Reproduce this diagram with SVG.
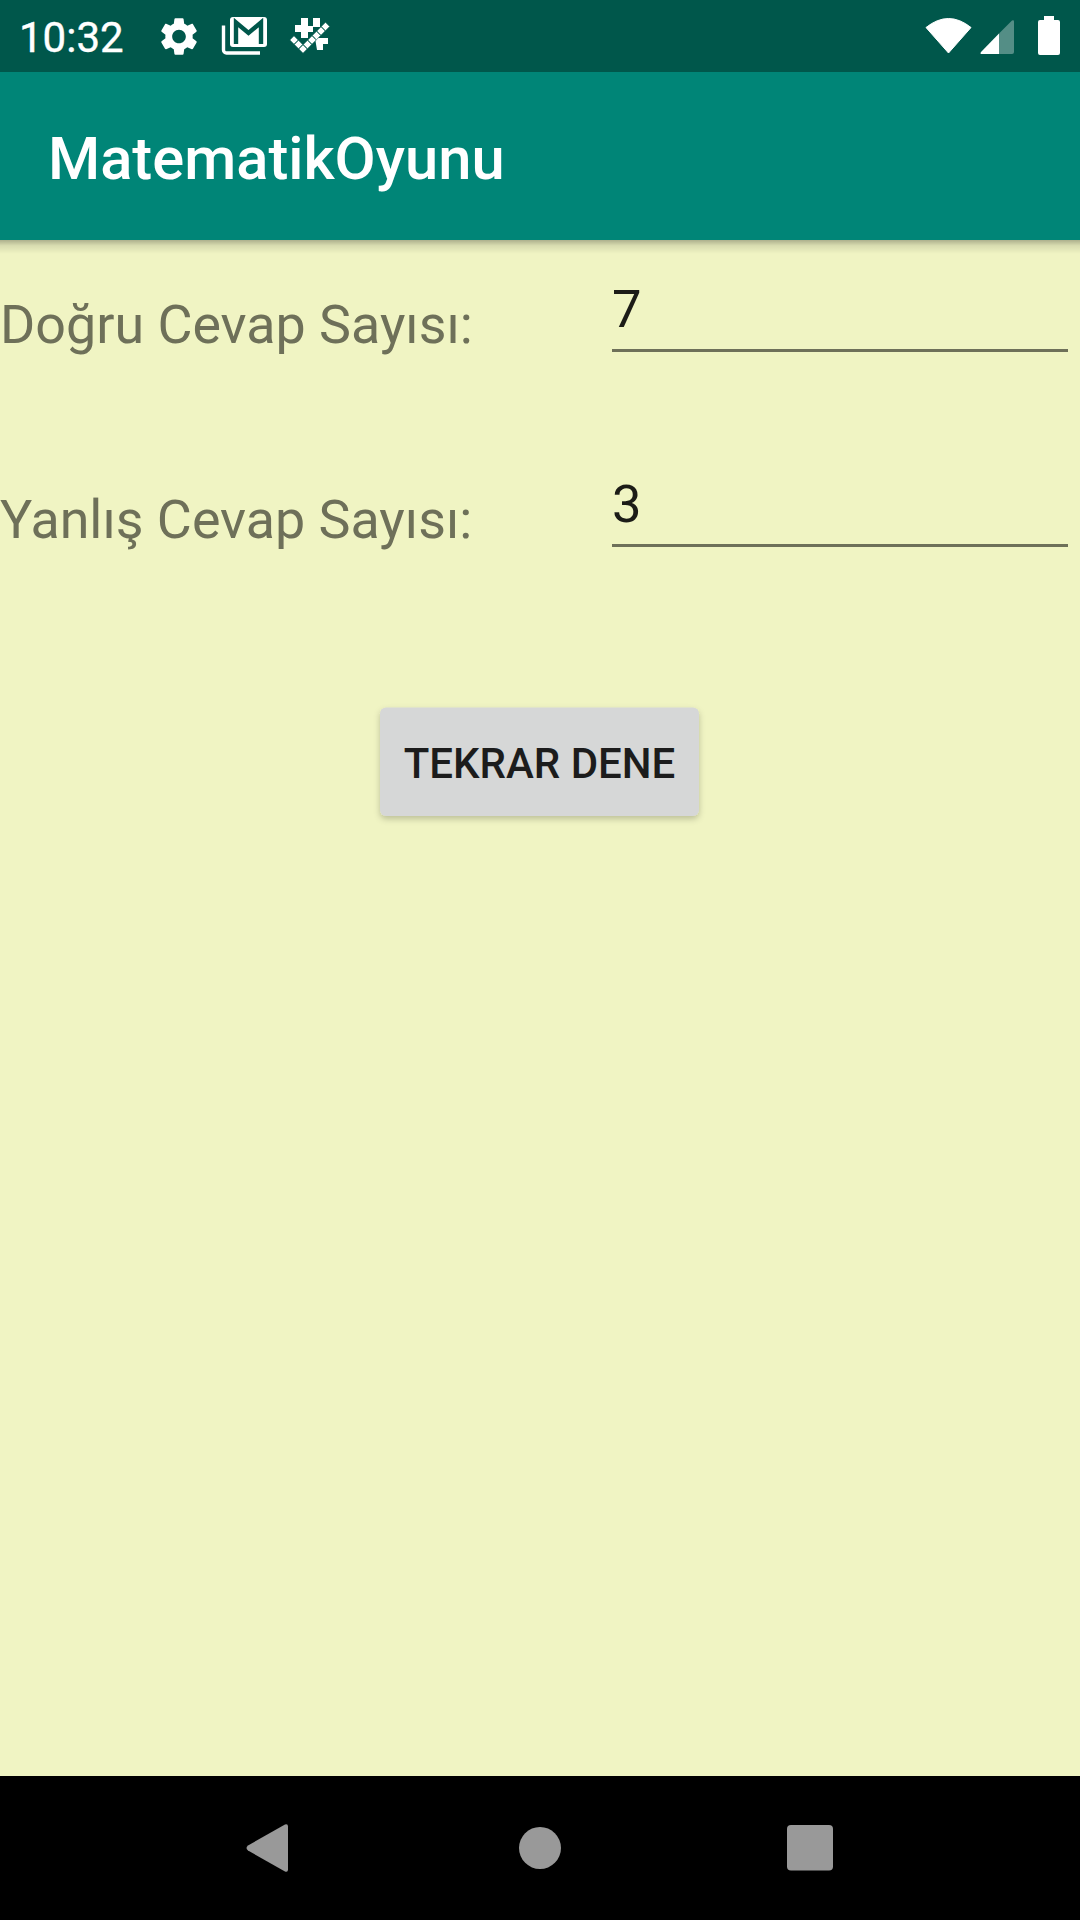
<svg xmlns="http://www.w3.org/2000/svg" width="1080" height="1920" viewBox="0 0 1080 1920">
<style>
text{font-family:Roboto,"Liberation Sans",sans-serif}
.label{font-size:53.8px;fill:#6e7059}
.val{font-size:52.5px;fill:#1c1c17}
.w{fill:#fff}
.nav{fill:#999}
.line{fill:#6e7059}
</style>
<defs>
<linearGradient id="sh" x1="0" y1="0" x2="0" y2="1"><stop offset="0" stop-color="#000" stop-opacity=".28"/><stop offset=".4" stop-color="#000" stop-opacity=".1"/><stop offset="1" stop-color="#000" stop-opacity="0"/></linearGradient>
<filter id="bs" x="-10%" y="-20%" width="120%" height="140%"><feDropShadow dx="0" dy="3" stdDeviation="3" flood-color="#000" flood-opacity=".22"/></filter>
<path id="d" d="M0-4.200 4.200 0 0 4.200-4.200 0z" fill="#fff" stroke="#00574b" stroke-width=".6"/>
</defs>
<rect id="background" width="1080" height="1920" fill="#f0f4c3"/>
<g id="status-bar">
<rect width="1080" height="72" fill="#00574b"/>
<text x="19" y="52" font-size="42" fill="#fff" stroke="#fff" stroke-width=".4">10:32</text>
<path id="gear" class="w" fill-rule="evenodd" transform="translate(156.2 13.7) scale(1.9)" d="M19.14,12.94c.04-.3.06-.61.06-.94 0-.32-.02-.64-.07-.94l2.03-1.58c.18-.14.23-.41.12-.61l-1.92-3.32c-.12-.22-.37-.29-.59-.22l-2.39.96c-.5-.38-1.03-.7-1.62-.94l-.36-2.54c-.04-.24-.24-.41-.48-.41h-3.84c-.24,0-.43.17-.47.41l-.36,2.54c-.59.24-1.13.57-1.62.94l-2.39-.96c-.22-.08-.47,0-.59.22L2.74,8.87c-.12.21-.08.47.12.61l2.03,1.58c-.05.3-.09.63-.09.94s.02.64.07.94l-2.03,1.58c-.18.14-.23.41-.12.61l1.92,3.32c.12.22.37.29.59.22l2.39-.96c.5.38 1.03.7 1.62.94l.36,2.54c.05.24.24.41.48.41h3.84c.24,0 .44-.17.47-.41l.36-2.54c.59-.24 1.13-.56 1.62-.94l2.39.96c.22.08.47,0 .59-.22l1.92-3.32c.12-.22.07-.47-.12-.61l-2.01-1.58zM12,15.6c-1.98,0-3.6-1.62-3.6-3.6s1.62-3.6 3.6-3.6 3.6,1.62 3.6,3.6-1.62,3.6-3.6,3.6z"/>
<g id="mail">
<path d="M223.500 25.500V50a3 3 0 0 0 3 3H260" fill="none" stroke="#fff" stroke-width="3.400"/>
<rect x="230" y="17" width="37" height="30" rx="3" class="w"/>
<path d="M236 44V22.500L248.500 33 261 22.500V44" fill="none" stroke="#00574b" stroke-width="4.400"/>
</g>
<g id="slack">
<path class="w" d="M301 18h7v8h5v-8h7v9h-7v5h-5v6h-7v-6h-6v-7h6z"/>
<path class="w" d="M315 38h13v6h-5v6h-6z"/>
<g id="check">
<use href="#d" x="294" y="40"/><use href="#d" x="298.500" y="44.500"/><use href="#d" x="303" y="49"/><use href="#d" x="307.500" y="44.500"/><use href="#d" x="312" y="40"/><use href="#d" x="316.500" y="35.500"/><use href="#d" x="321" y="31"/><use href="#d" x="325.500" y="26.500"/>
</g>
</g>
<path id="wifi" class="w" d="M926 27.500Q948.500 9.500 971 27.500L948.500 53z" stroke="#fff" stroke-width="1" stroke-linejoin="round"/>
<g id="signal">
<path d="M999 33.500 1012 20.500q2-1 2 1V52q0 2-2 2H999z" fill="#fff" fill-opacity=".33"/>
<path d="M999 33.500V54H982q-2.500 0-1-2z" class="w"/>
</g>
<path id="battery" class="w" d="M1044 16h10v4h4q2 0 2 2v31q0 2-2 2h-18q-2 0-2-2V22q0-2 2-2h4z"/>
</g>
<g id="app-bar">
<rect y="240" width="1080" height="14" fill="url(#sh)"/>
<rect y="72" width="1080" height="168" fill="#008577"/>
<text x="48" y="179" font-size="59.700" font-weight="500" fill="#fff">MatematikOyunu</text>
</g>
<g id="row-correct">
<text class="label" x="0" y="343">Doğru Cevap Sayısı:</text>
<text class="val" x="612" y="327">7</text>
<rect class="line" x="612" y="349" width="456" height="3"/>
</g>
<g id="row-wrong">
<text class="label" x="0" y="538">Yanlış Cevap Sayısı:</text>
<text class="val" x="612" y="522">3</text>
<rect class="line" x="612" y="544" width="456" height="3"/>
</g>
<g id="retry-button">
<rect x="380" y="707.500" width="319" height="108.500" rx="6" fill="#d6d7d7" filter="url(#bs)"/>
<text x="539.500" y="778" font-size="42" font-weight="500" fill="#1c1c1c" text-anchor="middle">TEKRAR DENE</text>
</g>
<g id="nav-bar">
<rect y="1776" width="1080" height="144" fill="#000"/>
<path id="nav-back" class="nav" d="M285 1824.500q3-1 3 2v43q0 3-3 2l-37-21q-3-2.500 0-5z"/>
<circle id="nav-home" class="nav" cx="540" cy="1848" r="21"/>
<rect id="nav-recent" class="nav" x="787" y="1825" width="46" height="45.500" rx="4"/>
</g>
</svg>
